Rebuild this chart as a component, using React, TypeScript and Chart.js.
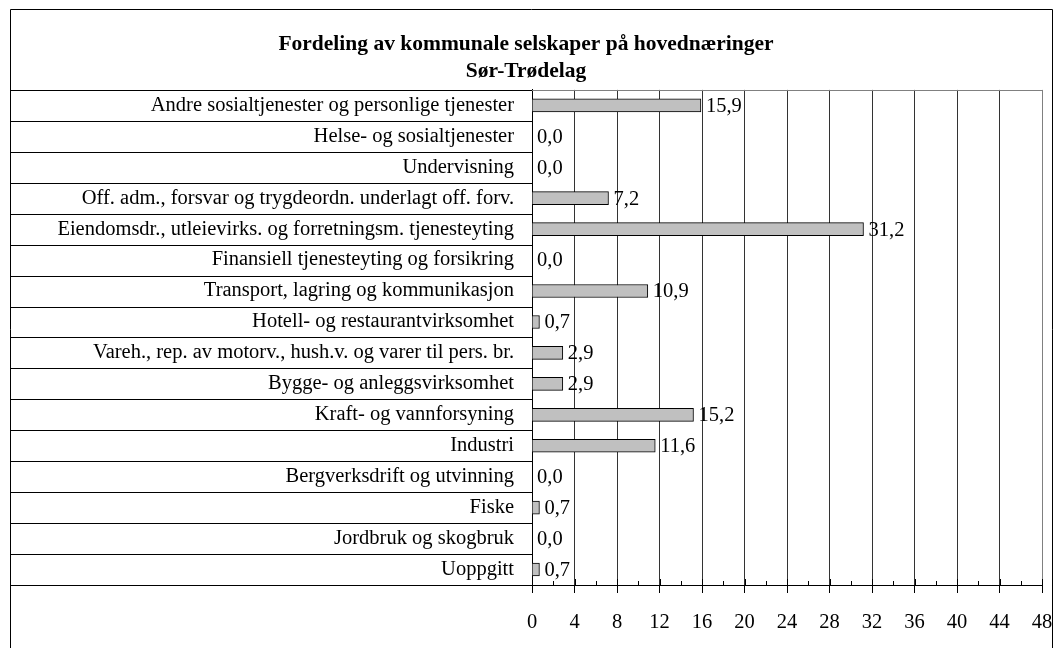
import React, { useEffect, useRef } from "react";
import { Chart, registerables } from "chart.js";

Chart.register(...registerables);

const titleLines = ["Fordeling av kommunale selskaper på hovednæringer", "Sør-Trødelag"];

const categories = [
  "Andre sosialtjenester og personlige tjenester",
  "Helse- og sosialtjenester",
  "Undervisning",
  "Off. adm., forsvar og trygdeordn. underlagt off. forv.",
  "Eiendomsdr., utleievirks. og forretningsm. tjenesteyting",
  "Finansiell tjenesteyting og forsikring",
  "Transport, lagring og kommunikasjon",
  "Hotell- og restaurantvirksomhet",
  "Vareh., rep. av motorv., hush.v. og varer til pers. br.",
  "Bygge- og anleggsvirksomhet",
  "Kraft- og vannforsyning",
  "Industri",
  "Bergverksdrift og utvinning",
  "Fiske",
  "Jordbruk og skogbruk",
  "Uoppgitt",
];

const values = [15.9, 0.0, 0.0, 7.2, 31.2, 0.0, 10.9, 0.7, 2.9, 2.9, 15.2, 11.6, 0.0, 0.7, 0.0, 0.7];

const axisMin = 0;
const axisMax = 48;
const majorStep = 4;
const minorTickValues = [2, 6, 10, 14, 18, 22, 26, 30, 34, 38, 42, 46];

const FONT = "'Liberation Serif', 'Times New Roman', serif";

const decorPlugin = {
  id: "decor",
  beforeDatasetsDraw(chart: any) {
    const { ctx, chartArea } = chart;
    ctx.save();
    ctx.strokeStyle = "#808080";
    ctx.lineWidth = 1;
    ctx.beginPath();
    ctx.moveTo(chartArea.left, Math.round(chartArea.top) + 0.5);
    ctx.lineTo(chartArea.right, Math.round(chartArea.top) + 0.5);
    ctx.stroke();
    ctx.restore();
  },
  afterDraw(chart: any) {
    const { ctx, chartArea, scales } = chart;
    const x = scales.x;
    const y = scales.y;
    ctx.save();
    ctx.strokeStyle = "#000";
    ctx.lineWidth = 1;
    const n = categories.length;
    const step = n > 1 ? y.getPixelForValue(1) - y.getPixelForValue(0) : 0;
    ctx.beginPath();
    for (let i = 0; i <= n; i++) {
      const py = Math.round(y.getPixelForValue(i) - step / 2) + 0.5;
      ctx.moveTo(10, py);
      ctx.lineTo(chartArea.left, py);
    }
    ctx.stroke();
    // minor ticks above the axis, major ticks crossing the axis
    ctx.beginPath();
    const by = Math.round(chartArea.bottom);
    for (const v of minorTickValues) {
      const px = Math.round(x.getPixelForValue(v)) + 0.5;
      ctx.moveTo(px, by - 4);
      ctx.lineTo(px, by);
    }
    for (let v = axisMin; v <= axisMax; v += majorStep) {
      const px = Math.round(x.getPixelForValue(v)) + 0.5;
      ctx.moveTo(px, by - 6);
      ctx.lineTo(px, by);
    }
    ctx.stroke();
    // outer border
    ctx.beginPath();
    ctx.moveTo(10.5, 700);
    ctx.lineTo(10.5, 9.5);
    ctx.lineTo(1052.5, 9.5);
    ctx.lineTo(1052.5, 700);
    ctx.stroke();
    ctx.restore();
  },
  afterDatasetsDraw(chart: any) {
    const { ctx } = chart;
    const meta = chart.getDatasetMeta(0);
    ctx.save();
    ctx.fillStyle = "#000";
    ctx.font = `20.5px ${FONT}`;
    ctx.textAlign = "left";
    ctx.textBaseline = "middle";
    meta.data.forEach((el: any, i: number) => {
      const txt = values[i].toFixed(1).replace(".", ",");
      ctx.fillText(txt, el.x + 5, el.y + 1);
    });
    ctx.restore();
  },
};

export default function App() {
  const ref = useRef<HTMLCanvasElement | null>(null);
  useEffect(() => {
    if (!ref.current) return;
    const chart = new Chart(ref.current, {
      type: "bar",
      data: {
        labels: categories,
        datasets: [
          {
            data: values,
            backgroundColor: "#C0C0C0",
            borderColor: "#000",
            borderWidth: 1,
            barThickness: 13,
          },
        ],
      },
      options: {
        indexAxis: "y",
        animation: false,
        responsive: false,
        devicePixelRatio: 1,
        layout: { padding: { left: 10, right: 12, top: 0, bottom: 0 } },
        plugins: {
          legend: { display: false },
          tooltip: { enabled: false },
          title: {
            display: true,
            text: titleLines,
            color: "#000",
            font: { family: FONT, size: 21.5, weight: "bold", lineHeight: 1.3 },
            padding: { top: 30, bottom: 4 },
          },
        },
        scales: {
          x: {
            type: "linear",
            position: "bottom",
            min: axisMin,
            max: axisMax,
            ticks: {
              stepSize: majorStep,
              color: "#000",
              font: { family: FONT, size: 20.5 },
              padding: 17,
              maxRotation: 0,
              autoSkip: false,
            },
            grid: {
              display: true,
              drawOnChartArea: true,
              drawTicks: true,
              tickLength: 8,
              color: (c: any) => (c.tick && c.tick.value === axisMax ? "#808080" : "#333"),
              tickColor: "#000",
            },
            border: { display: true, color: "#000" },
            afterFit: (s: any) => {
              s.height = 63;
              s.paddingLeft = 0;
              s.paddingRight = 0;
            },
          },
          y: {
            type: "category",
            position: "left",
            ticks: {
              color: "#000",
              font: { family: FONT, size: 20.5 },
              padding: 10,
              autoSkip: false,
            },
            grid: { display: false },
            border: { display: true, color: "#000" },
            afterFit: (s: any) => {
              s.width = 522;
            },
          },
        },
      },
      plugins: [decorPlugin],
    });
    return () => chart.destroy();
  }, []);
  return (
    <div style={{ position: "fixed", left: 0, top: 0, width: 1054, height: 648, background: "#fff" }}>
      <canvas ref={ref} width={1054} height={648} style={{ width: 1054, height: 648, display: "block" }} />
    </div>
  );
}
